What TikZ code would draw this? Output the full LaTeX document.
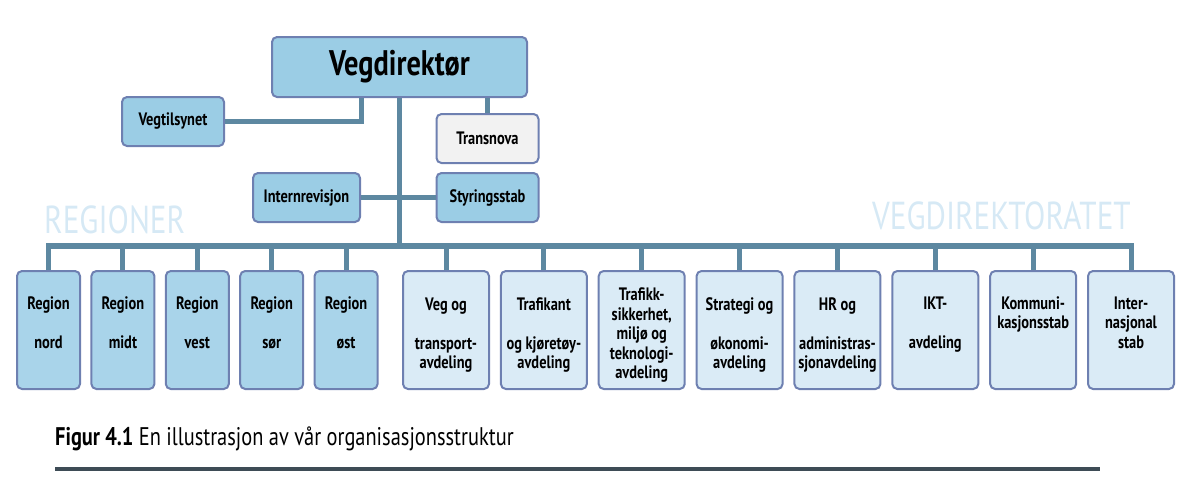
\documentclass[tikz,border=0pt]{standalone}
\usepackage{fontspec}
\setmainfont{PT Sans}[FakeStretch=0.8]
\definecolor{topblue}{HTML}{9BCDE5}
\definecolor{regblue}{HTML}{A9D4EA}
\definecolor{dirblue}{HTML}{DAEBF6}
\definecolor{greyfill}{HTML}{F2F2F2}
\definecolor{boxline}{HTML}{6E80B1}
\definecolor{linkblue}{HTML}{5D88A1}
\definecolor{headblue}{HTML}{D6E9F5}
\definecolor{rulegrey}{HTML}{3E4C56}
\newcommand{\padtop}{\strut\\[-10pt]}
\begin{document}
\begin{tikzpicture}[x=1pt, y=-1pt,
    every node/.style={font=\bfseries\fontsize{18}{19.5}\selectfont, align=center, inner sep=0pt},
    unit/.style={draw=boxline, line width=2pt, rounded corners=5pt, fill=#1},
    small/.style={unit=#1, minimum width=102pt, minimum height=49pt},
    region/.style={unit=regblue, minimum width=63pt, minimum height=118pt},
    dept/.style={unit=dirblue, minimum width=86pt, minimum height=118pt},
    link/.style={draw=linkblue, line width=5pt},
    head/.style={font=\mdseries\fontsize{39}{42}\selectfont, text=headblue}]
\useasboundingbox (0,0) rectangle (1197,480);
\coordinate (bus) at (0,246);
\node[unit=topblue, minimum width=255pt, minimum height=60pt, font=\bfseries\fontsize{35.5}{40}\selectfont] (vegdir) at (399.5,67) {Vegdirektør};
\node[small=topblue] (vegtil) at (173,121.5) {Vegtilsynet};
\node[small=greyfill] (transnova) at (487.5,138.5) {Transnova};
\node[small=topblue, minimum width=107pt] (internrev) at (306.5,197.5) {Internrevisjon};
\node[small=topblue] (styring) at (487.5,197.5) {Styringsstab};
\node[head, anchor=base west] (regioner) at (44,233) {REGIONER};
\node[head, anchor=base east] (vegdirektoratet) at (1131,229) {VEGDIREKTORATET};
\foreach \txt [count=\i] in {{Region\\\strut\\nord\\\strut}, {Region\\\strut\\midt\\\strut},
    {Region\\\strut\\vest\\\strut}, {Region\\\strut\\sør\\\strut}, {Region\\\strut\\øst\\\strut}}
{
    \node[region] (r\i) at ({48.5+74.4*(\i-1)},330) {\padtop\txt};
    \draw[link] (r\i.north) -- (r\i.north |- bus);
}
\foreach \txt [count=\i] in {{Veg og\\\strut\\transport-\\avdeling}, {Trafikant\\\strut\\og kjøretøy-\\avdeling},
    {Trafikk-\\sikkerhet,\\miljø og\\teknologi-\\avdeling}, {Strategi og\\\strut\\økonomi-\\avdeling},
    {HR og\\\strut\\administras-\\sjonavdeling}, {IKT-\\\strut\\avdeling\\\strut},
    {Kommuni-\\kasjonsstab\\\strut\\\strut}, {Inter-\\nasjonal\\stab\\\strut}}
{
    \node[dept] (d\i) at ({446+97.86*(\i-1)},330) {\padtop\txt};
    \draw[link] (d\i.north) -- (d\i.north |- bus);
}
\draw[link, line width=6pt, line cap=rect] (r1.north |- bus) -- (d8.north |- bus);
\draw[link] (vegdir.south) -- (vegdir.south |- bus);
\draw[link] ([xshift=-38pt]vegdir.south) |- (vegtil.east);
\draw[link] (transnova.north) -- (transnova.north |- vegdir.south);
\draw[link] (internrev.east) -- (styring.west);
\node[anchor=base west, font=\mdseries\fontsize{25.5}{30}\selectfont] (caption) at (55,445)
    {\textbf{Figur 4.1} En illustrasjon av vår organisasjonsstruktur};
\draw[line width=4pt, rulegrey] (55,469) -- (1100,469);
\end{tikzpicture}
\end{document}
